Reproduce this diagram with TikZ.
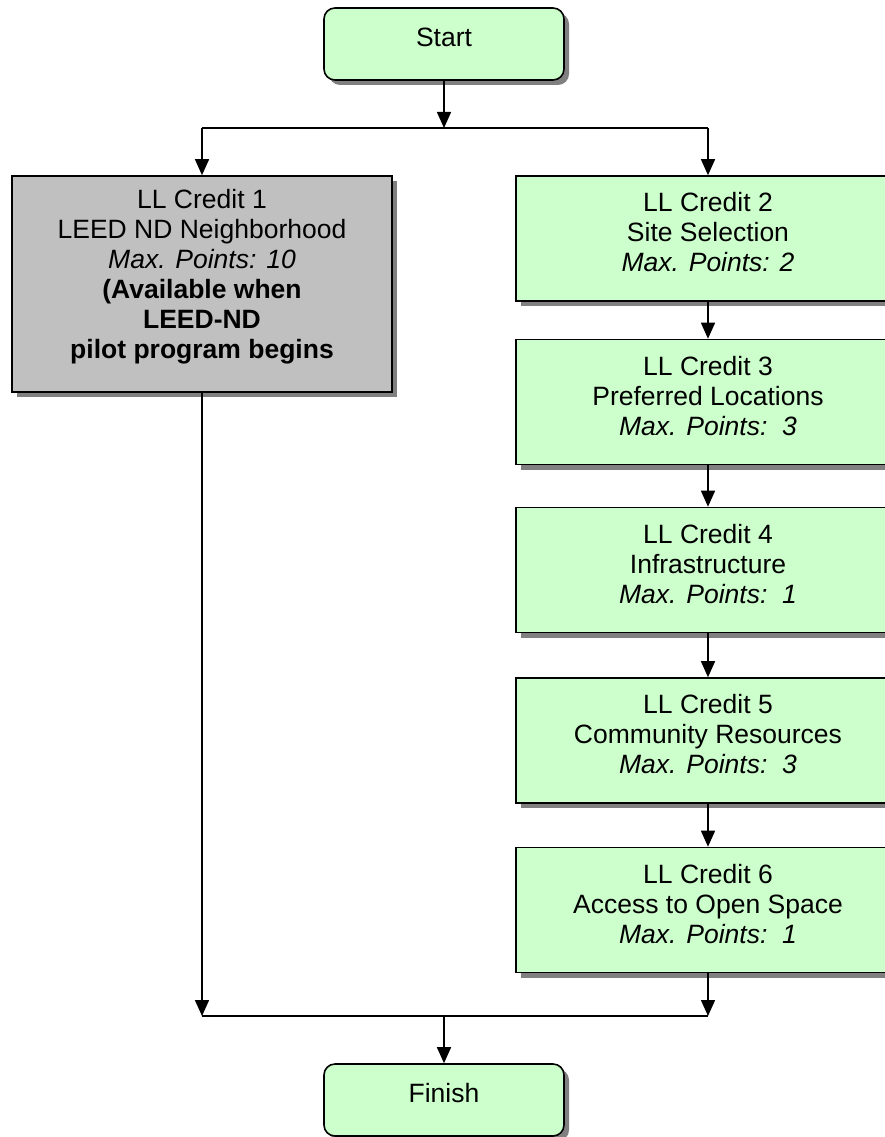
\documentclass[tikz,border=0pt]{standalone}
\usepackage{fontspec}
\setmainfont{Liberation Sans}
\usetikzlibrary{arrows.meta,shadows}
\definecolor{boxgreen}{HTML}{CCFFCC}
\definecolor{boxgray}{HTML}{C0C0C0}
\definecolor{shadowgray}{HTML}{808080}
\begin{document}
\begin{tikzpicture}[x=1pt,y=-1pt,
  base/.style={draw=black, line width=1.6pt, inner sep=0pt,
    drop shadow={shadow xshift=5pt, shadow yshift=-5pt, fill=shadowgray, opacity=1}},
  termbox/.style={base, fill=boxgreen, rounded corners=11pt, minimum width=240pt, minimum height=72pt},
  creditbox/.style={base, fill=boxgreen, minimum width=384pt, minimum height=125pt},
  graybox/.style={base, fill=boxgray, minimum width=380pt, minimum height=216pt},
  txt/.style={inner sep=0pt, align=center, font=\fontsize{26.5}{30}\selectfont},
  conn/.style={line width=1.5pt},
  arr/.style={conn, -{Triangle[length=16pt,width=14pt]}}
]
\useasboundingbox (0,0) rectangle (885,1137);
\clip (0,0) rectangle (885,1137);

\node[termbox] (start) at (444,44) {};
\node[graybox] (c1) at (202,284) {};
\node[creditbox] (c2) at (708,238.5) {};
\node[creditbox] (c3) at (708,402) {};
\node[creditbox] (c4) at (708,570) {};
\node[creditbox] (c5) at (708,740.5) {};
\node[creditbox] (c6) at (708,910) {};
\node[termbox] (finish) at (444,1100) {};

\node[txt] (startt) at ([yshift=7pt]start.center) {Start};
\node[txt] (c1t) at ([yshift=7pt]c1.center) {LL Credit 1\\LEED ND Neighborhood\\\textit{Max. Points: 10}\\\textbf{(Available when}\\\textbf{LEED-ND}\\\textbf{pilot program begins}};
\node[txt] (c2t) at ([yshift=6pt]c2.center) {LL Credit 2\\Site Selection\\\textit{Max. Points: 2}};
\node[txt] (c3t) at ([yshift=6pt]c3.center) {LL Credit 3\\Preferred Locations\\\textit{Max. Points:\ \ 3}};
\node[txt] (c4t) at ([yshift=6pt]c4.center) {LL Credit 4\\Infrastructure\\\textit{Max. Points:\ \ 1}};
\node[txt] (c5t) at ([yshift=6pt]c5.center) {LL Credit 5\\Community Resources\\\textit{Max. Points:\ \ 3}};
\node[txt] (c6t) at ([yshift=6pt]c6.center) {LL Credit 6\\Access to Open Space\\\textit{Max. Points:\ \ 1}};
\node[txt] (finisht) at ([yshift=7pt]finish.center) {Finish};

\coordinate (tl) at (202,128);
\coordinate (tm) at (444,128);
\coordinate (tr) at (708,128);
\coordinate (bl) at (202,1016);
\coordinate (bm) at (444,1016);
\coordinate (br) at (708,1016);

\draw[arr] (start.south) -- (tm);
\draw[conn] (tl) -- (tr);
\draw[arr] (tl) -- (c1.north);
\draw[arr] (tr) -- (c2.north);
\draw[arr] (c2.south) -- (c3.north);
\draw[arr] (c3.south) -- (c4.north);
\draw[arr] (c4.south) -- (c5.north);
\draw[arr] (c5.south) -- (c6.north);
\draw[arr] (c1.south) -- (bl);
\draw[arr] (c6.south) -- (br);
\draw[conn] (bl) -- (br);
\draw[arr] (bm) -- (finish.north);
\end{tikzpicture}
\end{document}
